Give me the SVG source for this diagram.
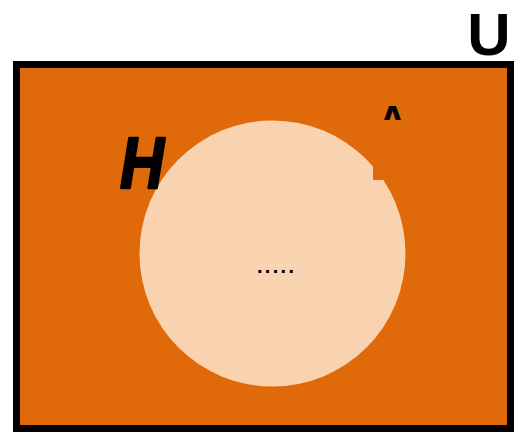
<svg xmlns="http://www.w3.org/2000/svg" width="520" height="432" viewBox="0 0 520 432">
<style>
.lbl{font-family:"Liberation Sans",Arial,sans-serif;font-weight:bold;fill:#000}
</style>
<rect width="520" height="432" fill="#fff"/>
<g id="universe">
<rect x="16.5" y="64.5" width="494" height="364" fill="#E0690A" stroke="#000" stroke-width="7"/>
<text class="lbl" x="479" y="55" font-size="60" text-anchor="middle" transform="translate(10 0)">U</text>
</g>
<g id="setA">
<circle cx="272.5" cy="253.5" r="133" fill="#F9D3B0"/>
<text class="lbl" x="378" y="134" font-size="40">A</text>
<rect x="373" y="120" width="40" height="60" fill="#E0690A"/>
</g>
<g id="labelH">
<text class="lbl" x="120" y="188" font-size="72" font-style="italic" textLength="44" lengthAdjust="spacingAndGlyphs" stroke="#000" stroke-width="2.5" stroke-linejoin="round">H</text>
</g>
<g id="dots">
<text class="lbl" x="257" y="273" font-size="20" textLength="37" lengthAdjust="spacing">.....</text>
</g>
<g id="connectors"/>
</svg>
